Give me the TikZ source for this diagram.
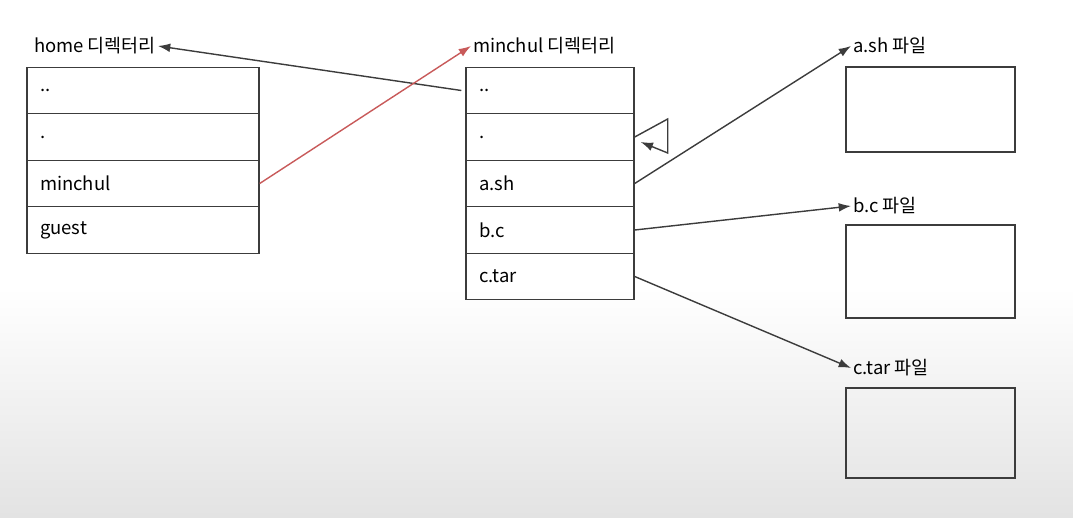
\documentclass[tikz,border=0pt]{standalone}
\usepackage{fontspec}
\setmainfont{Noto Sans CJK KR}
\usepackage{tikz}
\usetikzlibrary{positioning}
\usetikzlibrary{arrows.meta}
\definecolor{inkgray}{HTML}{3C3C3C}
\definecolor{linkred}{HTML}{C85A5A}
\tikzset{
    cell/.style = {rectangle, draw=inkgray, line width=0.8pt, minimum height=0.93cm, text width=#1, inner xsep=0.26cm, align=left, font=\fontsize{10.5}{12}\selectfont},
    filebox/.style = {rectangle, draw=inkgray, line width=0.8pt, minimum width=3.38cm},
    title/.style = {anchor=west, inner sep=1pt, font=\fontsize{10.5}{12}\selectfont},
    edgen/.style = {-{Latex[length=7pt,width=5pt]}, line width=0.8pt, inkgray},
    edger/.style = {-{Latex[length=7pt,width=5pt]}, line width=0.8pt, linkred},
}

\begin{document}
\begin{tikzpicture}[scale=1.00,transform shape]
\useasboundingbox (0,0) rectangle (21.46,10.34);
\shade[top color=white, bottom color=gray!22] (0,0) rectangle (21.46,4.6);
% home directory
\node[title] at (0.64, 9.42) (homelbl) {home 디렉터리};
\node[cell=4.12cm] at (2.86, 8.53) (h1) {..};
\node[cell=4.12cm] at (2.86, 7.60) (h2) {.};
\node[cell=4.12cm] at (2.86, 6.67) (h3) {minchul};
\node[cell=4.12cm] at (2.86, 5.74) (h4) {guest};
% minchul directory
\node[title] at (9.42, 9.42) (minlbl) {minchul 디렉터리};
\node[cell=2.84cm] at (11.00, 8.53) (m1) {..};
\node[cell=2.84cm] at (11.00, 7.60) (m2) {.};
\node[cell=2.84cm] at (11.00, 6.67) (m3) {a.sh};
\node[cell=2.84cm] at (11.00, 5.74) (m4) {b.c};
\node[cell=2.84cm] at (11.00, 4.81) (m5) {c.tar};
% files
\node[title] at (17.02, 9.42) (albl) {a.sh 파일};
\node[filebox, minimum height=1.70cm] at (18.61, 8.15) (afile) {};
\node[title] at (17.02, 6.22) (blbl) {b.c 파일};
\node[filebox, minimum height=1.86cm] at (18.61, 4.91) (bfile) {};
\node[title] at (17.02, 2.98) (clbl) {c.tar 파일};
\node[filebox, minimum height=1.80cm] at (18.61, 1.68) (cfile) {};
%
\draw[edgen] ([xshift=-0.08cm]m1.west) -- (homelbl.east);
\draw[edger] (h3.east) -- (minlbl.west);
\draw[edgen] (m2.east) -- ++(0.66,0.36) -- ++(0,-0.68) -- ([xshift=0.12cm,yshift=-0.1cm]m2.east);
\draw[edgen] (m3.east) -- (albl.west);
\draw[edgen] (m4.east) -- (blbl.west);
\draw[edgen] (m5.east) -- (clbl.west);
\end{tikzpicture}
\end{document}
